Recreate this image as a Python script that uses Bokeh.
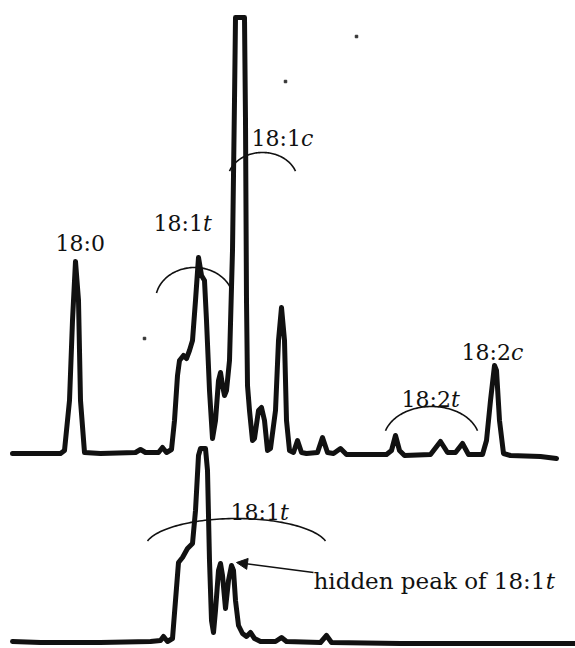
import numpy as np
from bokeh.plotting import figure
from bokeh.models import Range1d, Arrow, NormalHead, ColumnDataSource
from bokeh.core.properties import value
from bokeh.embed import file_html
from bokeh.resources import INLINE

# ---------------- data ----------------
# retention position (arbitrary units) and detector signal (arbitrary units)
top_rt = [12, 60, 64, 69, 72, 75, 78, 80, 84, 100, 135, 140, 145, 158, 162, 166,
          171, 174, 177, 179, 183, 186, 189, 192, 195, 198, 201, 204, 206, 209,
          212, 215, 218, 220, 222, 224, 226, 229, 232, 234, 235, 244, 245, 246,
          247, 249, 252, 254, 258, 261, 264, 267, 270, 275, 278, 281, 284, 286,
          289, 293, 297, 301, 306, 317, 322, 327, 333, 340, 346, 386, 391, 395,
          399, 404, 430, 440, 447, 455, 462, 468, 482, 486, 490, 494, 496, 499,
          503, 510, 540, 556]
top_signal = [2, 2, 5, 55, 135, 194, 155, 55, 3, 2, 3, 6, 3, 3, 8, 3,
              6, 35, 80, 95, 100, 97, 105, 115, 155, 198, 180, 175, 135, 65,
              17, 35, 75, 83, 70, 60, 65, 95, 205, 355, 438, 438, 335, 155,
              70, 45, 15, 17, 45, 48, 35, 5, 7, 45, 115, 148, 115, 35,
              5, 3, 15, 3, 2, 3, 18, 3, 2, 7, 1, 1, 5, 20,
              5, 0, 1, 14, 3, 3, 12, 1, 1, 15, 55, 90, 85, 35,
              2, 0, -1, -3]

bottom_rt = [12, 40, 100, 150, 160, 163, 167, 172, 175, 178, 182, 187, 192, 195,
             198, 200, 205, 207, 209, 211, 213, 215, 218, 220, 222, 225, 228, 231,
             233, 235, 238, 242, 246, 250, 254, 260, 275, 281, 286, 320, 326, 331,
             400, 575]
bottom_signal = [1, 0, 0, 1, 2, 6, 1, 4, 42, 80, 85, 94, 99, 132,
                 187, 194, 194, 172, 82, 22, 10, 32, 72, 79, 67, 34, 62, 77,
                 72, 42, 17, 9, 6, 10, 4, 1, 1, 5, 1, 0, 7, 0,
                 -1, -1]

# peak labels: main part, italic suffix, left x, baseline (page units, y down)
label_main = ["18:0", "18:1", "18:1", "18:2", "18:2", "18:1"]
label_suffix = ["", "t", "c", "t", "c", "t"]
label_left = [55, 153, 251, 401, 461, 230]
label_base = [243, 223, 138, 399, 352, 512]

# brackets: centre x, centre y, half width, half height, left end x, right end x
arc_cx = [194, 262, 431, 236]
arc_cy = [300, 180, 440, 548]
arc_rx = [39, 35, 48, 92]
arc_ry = [33, 28, 34, 30]
arc_x0 = [156, 229, 385, 147]
arc_x1 = [231, 295, 477, 325]

note_main = "hidden peak of 18:1"
note_suffix = "t"
note_left = 313
note_base = 580
arrow_tail = (313, 572)
arrow_tip = (236, 562)

dust_x = [285, 144, 356]
dust_y = [81, 338, 36]

# ---------------- layout helpers ----------------
H = 648
TOP_BASE = 455      # baseline of upper trace (page y)
BOTTOM_BASE = 642   # baseline of lower trace (page y)
FONT = "DejaVu Serif"
LABEL_SIZE = 22
NOTE_SIZE = 23

# DejaVu Serif advance widths (em)
ADV = {"1": 0.636, "8": 0.636, "0": 0.636, "2": 0.636, ":": 0.337, " ": 0.318,
       "h": 0.641, "i": 0.320, "d": 0.641, "e": 0.592, "n": 0.641, "p": 0.641,
       "a": 0.596, "k": 0.617, "o": 0.602, "f": 0.370}


def text_width(s, size):
    return sum(ADV.get(c, 0.6) for c in s) * size


def fy(y):
    return H - np.asarray(y, dtype=float)


p = figure(width=575, height=648, x_range=Range1d(0, 575), y_range=Range1d(0, 648),
           output_backend="svg", toolbar_location=None,
           x_axis_type=None, y_axis_type=None, min_border=0)
p.grid.visible = False
p.outline_line_color = None
p.background_fill_color = "white"
p.border_fill_color = "white"

# traces
p.line(top_rt, fy(TOP_BASE - np.asarray(top_signal)), line_color="#111111",
       line_width=5, line_join="round", line_cap="round")
p.line(bottom_rt, fy(BOTTOM_BASE - np.asarray(bottom_signal)), line_color="#111111",
       line_width=5, line_join="round", line_cap="round")

# brackets
for cx, cy, rx, ry, x0, x1 in zip(arc_cx, arc_cy, arc_rx, arc_ry, arc_x0, arc_x1):
    t0 = np.arccos(np.clip((x0 - cx) / rx, -1, 1))
    t1 = np.arccos(np.clip((x1 - cx) / rx, -1, 1))
    t = np.linspace(t0, t1, 80)
    p.line(cx + rx * np.cos(t), fy(cy - ry * np.sin(t)), line_color="#111111",
           line_width=1.6)

# labels
src_main = ColumnDataSource(dict(x=label_left, y=fy(label_base), text=label_main))
p.text(x="x", y="y", text="text", source=src_main, text_font=value(FONT),
       text_font_size=f"{LABEL_SIZE}px", text_baseline="alphabetic",
       text_align="left", text_color="#111111")
suf_x = [x + text_width(m, LABEL_SIZE) for x, m in zip(label_left, label_main)]
src_suf = ColumnDataSource(dict(x=suf_x, y=fy(label_base), text=label_suffix))
p.text(x="x", y="y", text="text", source=src_suf, text_font=value(FONT),
       text_font_size=f"{LABEL_SIZE}px", text_font_style="italic",
       text_baseline="alphabetic", text_align="left", text_color="#111111")

# annotation text + arrow
p.text(x=[note_left], y=fy([note_base]), text=[note_main], text_font=value(FONT),
       text_font_size=f"{NOTE_SIZE}px", text_baseline="alphabetic",
       text_align="left", text_color="#111111")
p.text(x=[note_left + text_width(note_main, NOTE_SIZE)], y=fy([note_base]),
       text=[note_suffix], text_font=value(FONT), text_font_size=f"{NOTE_SIZE}px",
       text_font_style="italic", text_baseline="alphabetic", text_align="left",
       text_color="#111111")
p.add_layout(Arrow(x_start=arrow_tail[0], y_start=float(fy(arrow_tail[1])),
                   x_end=arrow_tip[0], y_end=float(fy(arrow_tip[1])),
                   line_width=1.6, line_color="#111111",
                   end=NormalHead(size=11, fill_color="#111111", line_color="#111111")))

# scan specks
p.scatter(dust_x, fy(dust_y), size=2.5, color="#333333", marker="square")

open("out.html", "w").write(file_html(p, INLINE))
